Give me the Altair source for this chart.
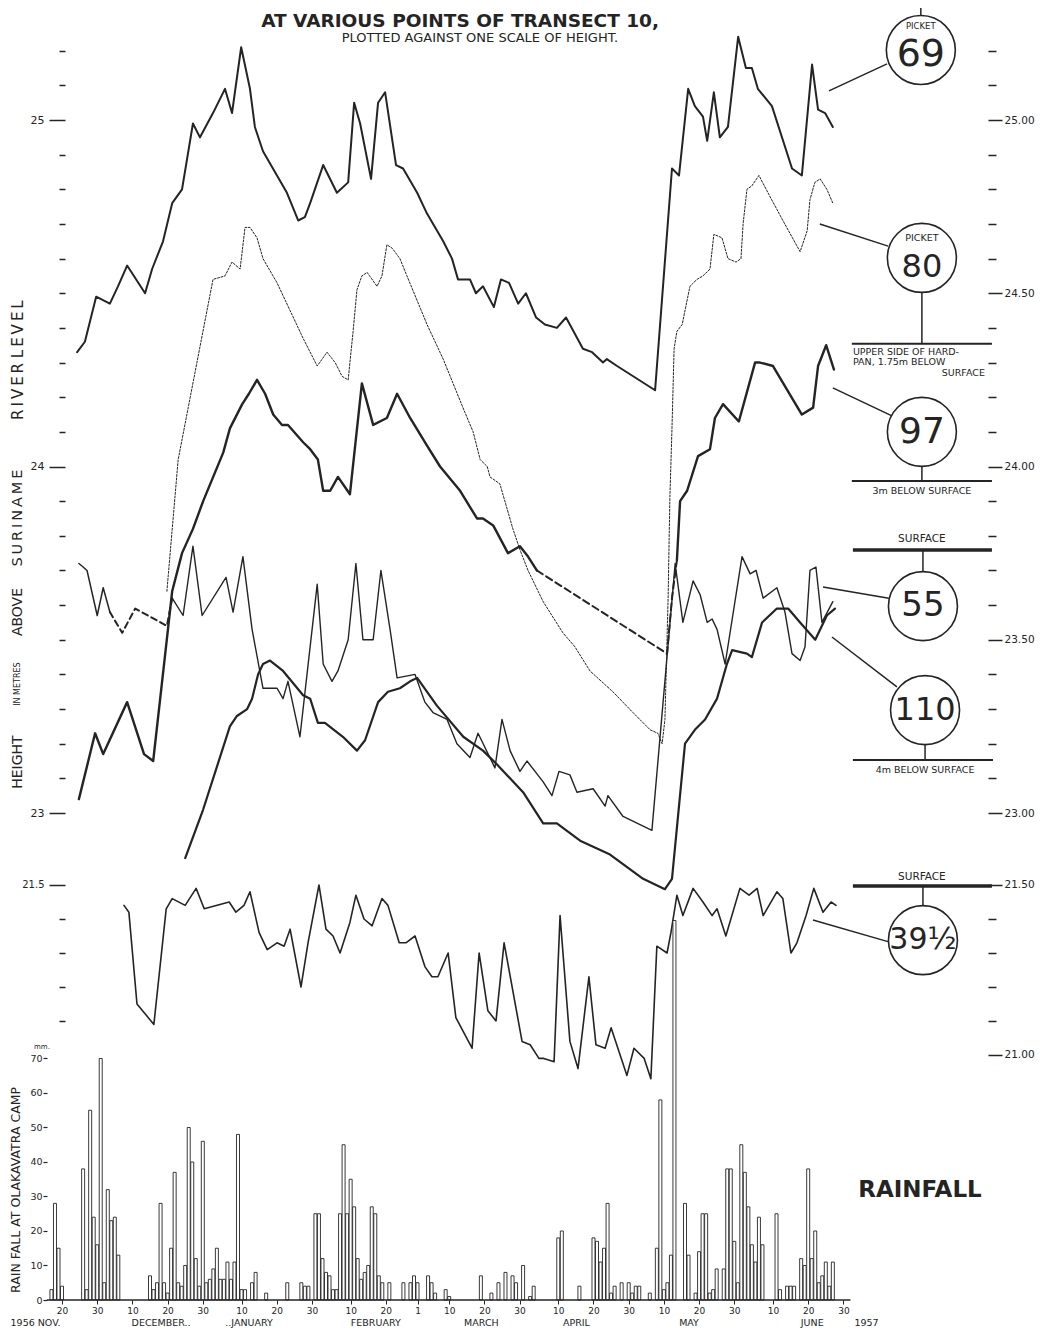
import altair as alt
import pandas as pd

INK = "#242424"
FONT = "DejaVu Sans"
BASE = pd.Timestamp("1956-11-01")   # day 0 = 1 Nov 1956

# ---------------- data (day = days after 1 Nov 1956, height in metres) ----------------
P69_DAY = [23.3,25.5,28.7,32.6,34.9,37.5,42.6,44.6,47.7,50.3,53.1,56.2,58.2,61.9,65.3,67.3,69.9,72.4,73.8,76.1,82.9,86.1,88.0,89.5,93.2,97.1,100.3,102.0,103.7,106.8,108.8,110.8,113.9,115.9,119.9,122.7,127.3,129.8,131.5,134.9,136.6,138.6,141.7,143.7,146.0,148.6,150.8,153.7,156.2,159.6,162.2,167.0,169.6,172.7,173.8,176.7,187.5,192.3,194.3,196.9,198.8,201.1,202.3,204.2,205.9,208.2,211.1,213.3,215.0,216.7,220.7,226.4,229.2,232.1,233.8,235.8,238.0]
P69_H = [24.33,24.36,24.49,24.47,24.52,24.58,24.50,24.57,24.65,24.76,24.80,24.99,24.95,25.02,25.09,25.02,25.21,25.09,24.98,24.91,24.79,24.71,24.72,24.76,24.87,24.79,24.82,25.05,24.99,24.83,25.05,25.08,24.87,24.86,24.79,24.73,24.65,24.60,24.54,24.54,24.50,24.52,24.46,24.54,24.53,24.47,24.50,24.43,24.41,24.40,24.43,24.34,24.33,24.30,24.31,24.29,24.22,24.86,24.84,25.09,25.04,25.01,24.94,25.08,24.95,24.98,25.24,25.15,25.15,25.09,25.04,24.86,24.84,25.16,25.03,25.02,24.98]

P80_DAY = [48.8,52.0,61.9,65.3,67.3,69.6,71.0,72.4,74.4,76.1,80.1,83.8,87.5,91.5,94.3,96.6,98.6,100.3,101.7,102.8,104.2,105.7,108.5,109.9,111.3,112.8,115.0,117.0,122.7,127.3,132.9,135.8,137.8,139.8,140.6,143.4,147.1,149.1,151.4,155.7,161.3,164.7,169.0,175.5,181.2,186.1,188.3,189.5,190.3,191.2,191.7,192.3,192.9,193.7,195.2,197.4,199.4,201.1,203.1,204.2,206.5,208.2,210.5,211.9,212.5,213.6,215.0,217.0,220.1,223.8,228.7,230.7,231.5,232.9,234.4,236.3,238.0]
P80_H = [23.64,24.02,24.54,24.55,24.59,24.57,24.69,24.69,24.66,24.60,24.53,24.45,24.37,24.29,24.33,24.30,24.26,24.25,24.39,24.51,24.55,24.56,24.52,24.55,24.64,24.63,24.60,24.55,24.41,24.31,24.17,24.10,24.02,24.00,23.97,23.95,23.82,23.76,23.70,23.61,23.52,23.48,23.41,23.35,23.29,23.24,23.23,23.20,23.27,23.62,23.91,24.11,24.34,24.39,24.41,24.52,24.54,24.55,24.57,24.67,24.66,24.60,24.59,24.60,24.70,24.80,24.81,24.84,24.78,24.71,24.62,24.68,24.77,24.82,24.83,24.80,24.76]

P97A_DAY = [23.8,28.4,30.7,37.5,42.3,44.9,49.1,50.3,53.1,56.2,59.1,64.8,66.7,70.2,72.1,74.4,76.7,79.0,81.5,83.2,87.5,89.5,91.7,93.2,95.2,97.4,100.8,104.2,107.4,111.3,114.2,117.9,122.7,126.4,132.1,136.9,138.6,141.5,145.7,149.1,151.4,153.9]
P97A_H = [23.04,23.23,23.17,23.32,23.17,23.15,23.53,23.64,23.75,23.82,23.90,24.04,24.11,24.18,24.21,24.25,24.21,24.15,24.12,24.12,24.07,24.05,24.02,23.93,23.93,23.97,23.92,24.24,24.12,24.14,24.21,24.14,24.06,24.00,23.93,23.85,23.85,23.83,23.75,23.77,23.74,23.70]
P97GAP_DAY = [153.9,190.9,192.3,193.7]
P97GAP_H = [23.70,23.46,23.62,23.73]
P97B_DAY = [193.7,194.6,196.6,199.7,203.1,204.5,206.8,211.3,215.9,217.3,221.0,229.2,232.4,233.8,236.1,238.3]
P97B_H = [23.73,23.90,23.93,24.03,24.05,24.14,24.18,24.13,24.30,24.30,24.29,24.15,24.17,24.29,24.35,24.28]

P55A_DAY = [23.8,25.0,26.1,29.0,30.7,32.6]
P55A_H = [23.72,23.71,23.70,23.57,23.65,23.58]
P55GAP_DAY = [32.6,36.1,39.8,48.8,50.3]
P55GAP_H = [23.58,23.52,23.59,23.54,23.62]
P55B_DAY = [50.3,53.4,56.2,58.8,65.6,67.6,70.4,73.0,76.1,80.1,81.8,83.2,86.6,91.5,93.2,95.7,97.4,100.3,102.5,104.5,107.4,109.6,112.2,114.2,119.3,122.1,124.4,128.4,131.2,134.9,137.2,142.0,144.0,146.3,149.1,151.1,155.7,158.2,160.2,163.3,165.3,169.9,173.3,174.1,178.4,186.6,193.2,195.4,198.3,200.3,202.3,203.7,205.1,207.4,212.2,214.5,216.2,218.2,222.1,224.4,226.4,228.7,230.1,231.5,233.2,234.9,238.0]
P55B_H = [23.62,23.57,23.77,23.57,23.68,23.58,23.74,23.53,23.36,23.36,23.33,23.38,23.22,23.66,23.43,23.38,23.41,23.50,23.72,23.50,23.50,23.70,23.53,23.39,23.40,23.32,23.29,23.27,23.20,23.16,23.23,23.13,23.27,23.18,23.12,23.15,23.09,23.05,23.12,23.11,23.06,23.07,23.02,23.05,22.99,22.95,23.72,23.55,23.67,23.63,23.55,23.56,23.53,23.43,23.74,23.69,23.70,23.62,23.65,23.58,23.46,23.44,23.48,23.70,23.71,23.55,23.61]

P110_DAY = [54.0,59.1,66.7,68.7,71.6,73.0,74.7,76.1,78.1,81.8,87.5,89.5,91.7,93.7,98.8,102.8,105.1,108.8,111.6,115.0,117.9,119.9,125.5,133.0,138.6,142.6,150.0,155.7,159.6,166.2,174.7,184.1,190.3,192.3,196.0,198.8,201.7,205.1,207.9,209.4,213.6,215.0,217.9,222.1,225.3,228.7,233.0,236.3,238.6]
P110_H = [22.87,23.01,23.25,23.28,23.30,23.33,23.40,23.43,23.44,23.41,23.34,23.33,23.26,23.26,23.22,23.18,23.21,23.32,23.35,23.36,23.38,23.39,23.31,23.22,23.18,23.14,23.06,22.97,22.97,22.92,22.88,22.81,22.78,22.81,23.20,23.24,23.27,23.33,23.43,23.47,23.46,23.45,23.55,23.59,23.59,23.55,23.50,23.57,23.59]

P39_DAY = [36.6,38.0,40.3,45.1,48.6,50.3,54.0,57.1,59.4,66.5,68.4,70.7,72.4,75.0,77.3,80.1,82.1,83.8,86.9,88.9,92.0,94.0,96.0,98.0,100.8,102.5,104.8,107.1,109.9,111.6,114.8,116.7,119.3,122.1,124.1,125.8,128.7,130.9,135.5,137.5,140.0,142.3,144.6,149.7,152.0,154.5,155.9,158.8,160.5,163.3,165.6,168.7,170.7,173.3,175.0,179.5,181.5,184.4,186.3,188.0,190.9,192.0,193.7,195.4,198.3,201.1,203.7,205.1,207.6,211.6,214.2,216.5,218.2,222.1,223.8,226.1,227.8,230.4,232.6,235.2,237.5,238.9]
P39_H = [21.44,21.42,21.15,21.09,21.43,21.46,21.44,21.49,21.43,21.45,21.42,21.44,21.48,21.36,21.31,21.33,21.32,21.37,21.20,21.33,21.50,21.37,21.35,21.30,21.39,21.47,21.40,21.38,21.46,21.44,21.33,21.33,21.35,21.26,21.23,21.23,21.30,21.11,21.02,21.30,21.13,21.10,21.33,21.04,21.03,20.99,20.99,20.98,21.41,21.04,20.96,21.23,21.03,21.02,21.08,20.94,21.02,20.99,20.93,21.32,21.30,21.36,21.47,21.41,21.49,21.45,21.41,21.43,21.35,21.49,21.47,21.49,21.41,21.48,21.46,21.30,21.33,21.41,21.49,21.42,21.45,21.44]

RAIN_DAY = [16,17,18,19,25,26,27,28,29,30,31,32,33,34,35,
            44,45,46,47,48,49,50,51,52,53,54,55,56,57,58,59,60,61,62,63,64,65,66,67,68,69,70,71,73,74,77,
            83,87,88,89,91,92,93,94,95,96,97,98,99,100,101,102,103,104,105,106,107,108,109,110,
            112,116,118,119,120,123,124,125,128,129,138,141,143,145,147,148,150,152,153,160,161,166,
            170,171,172,173,174,175,176,178,180,181,182,183,186,188,189,190,191,192,193,196,197,199,200,201,202,203,204,205,
            207,208,209,210,211,212,213,214,215,216,217,218,222,223,225,226,227,229,230,231,232,233,234,235,236,237,238]
RAIN_MM = [3,28,15,4,38,3,55,24,16,70,5,32,23,24,13,
           7,3,5,28,5,2,15,37,5,4,10,50,40,12,4,46,5,6,9,15,6,6,11,6,11,48,3,3,5,8,2,
           5,5,4,4,25,25,12,8,7,3,3,25,45,25,35,27,12,6,8,10,27,25,7,5,
           5,5,5,7,5,7,5,2,3,1,7,2,5,8,7,5,10,1,4,18,20,4,
           18,17,11,15,28,2,4,5,5,2,4,4,2,15,58,3,5,13,110,28,13,2,14,25,25,2,3,9,
           9,38,38,17,5,45,37,27,16,11,24,16,25,3,4,4,4,12,10,38,12,20,5,7,11,4,11]
RAIN_BASELINE_DAY = [14.7, 243.0]

# tick values / labels
MAIN_TICKS = [round(23.0 + 0.1 * i, 1) for i in range(24)]
S39_LEFT_TICKS = [21.1, 21.2, 21.3, 21.4, 21.5]
S39_RIGHT_TICKS = [21.0, 21.1, 21.2, 21.3, 21.4, 21.5]
RAIN_TICKS = [0, 10, 20, 30, 40, 50, 60, 70]
DAY_TICKS = [(1956,11,20),(1956,11,30),(1956,12,10),(1956,12,20),(1956,12,30),(1957,1,10),(1957,1,20),(1957,1,30),
             (1957,2,10),(1957,2,20),(1957,3,1),(1957,3,10),(1957,3,20),(1957,3,30),(1957,4,10),(1957,4,20),
             (1957,4,30),(1957,5,10),(1957,5,20),(1957,5,30),(1957,6,10),(1957,6,20),(1957,6,30)]
MONTH_TICKS = [(1956,11,12,8),(1956,12,18,0),(1957,1,12,0),(1957,2,17,0),(1957,3,19,0),(1957,4,15,0),
               (1957,5,17,0),(1957,6,21,0),(1957,7,6,10)]
MONTH_NAMES = "['..JANUARY','FEBRUARY','MARCH','APRIL','MAY','JUNE','1957','','','','1956   NOV.','DECEMBER..']"

# annotation geometry (in chart data units: day, metres on the main height scale)
RULE_D1 = [263.0,236.9,234.3,263.3,243.4,238.0,263.3,243.4,243.7,263.6,235.2,237.75,264.2,243.7,243.7,263.6,232.35]
RULE_D2 = [263.0,253.4,253.7,263.3,283.2,254.8,263.3,283.2,283.2,263.6,253.9,256.2,264.2,283.5,283.2,263.6,253.9]
RULE_H1 = [25.323,25.084,24.700,24.501,24.354,24.227,24.001,23.958,23.759,23.759,23.652,23.508,23.196,23.153,22.789,22.789,22.691]
RULE_H2 = [25.303,25.162,24.636,24.354,24.354,24.146,23.958,23.958,23.759,23.696,23.620,23.364,23.153,23.153,22.789,22.732,22.628]
RULE_W = [1.5,1.5,1.5,1.5,2.0,1.5,1.5,2.0,3.5,1.5,1.5,1.5,1.5,2.0,3.5,1.5,1.5]

CIRC_D = [263.0, 263.3, 263.3, 263.6, 264.2, 263.6]
CIRC_H = [25.202, 24.602, 24.100, 23.597, 23.297, 22.633]

TXT_C = ["PICKET", "69", "PICKET", "80", "97", "55", "110", "39½", "3m  BELOW SURFACE", "SURFACE",
         "4m  BELOW SURFACE", "SURFACE", "PLOTTED  AGAINST  ONE  SCALE  OF  HEIGHT.", "mm."]
TXT_C_D = [263.0, 263.0, 263.3, 263.3, 263.3, 263.6, 264.2, 263.6, 263.3, 263.3, 264.2, 263.3, 137.75, 13.3]
TXT_C_H = [25.271, 25.188, 24.659, 24.576, 24.100, 23.597, 23.297, 22.633, 23.929, 23.791, 23.124, 22.815, 25.237, 22.325]
TXT_C_FS = [8.5, 38, 9.5, 32, 36, 34, 32, 30, 9.5, 10.5, 9.5, 10.5, 13, 7]

TXT_L = ["UPPER SIDE OF HARD-", "PAN, 1.75m BELOW"]
TXT_L_D = [243.7, 243.7]
TXT_L_H = [24.330, 24.302]
TXT_R = ["SURFACE"]
TXT_R_D = [281.2]
TXT_R_H = [24.270]
TXT_B = ["AT VARIOUS POINTS  OF TRANSECT 10,", "RAINFALL"]
TXT_B_D = [132.1, 262.75]
TXT_B_H = [25.285, 21.912]
TXT_B_FS = [18.5, 23]
THIN = "\u2009"
TXT_V = ["HEIGHT", "IN METRES", "ABOVE", THIN.join("SURINAME"), THIN.join("RIVER") + "  " + THIN.join("LEVEL"),
         "RAIN FALL  AT  OLAKAVATRA  CAMP"]
TXT_V_D = [6.5, 6.5, 6.5, 6.5, 6.5, 5.9]
TXT_V_H = [23.147, 23.372, 23.580, 23.851, 24.307, 21.912]
TXT_V_FS = [14, 8, 14, 14.5, 15, 12.5]


def dates(days):
    return [BASE + pd.Timedelta(days=float(d)) for d in days]


def dt(t):
    if len(t) == 3:
        return alt.DateTime(year=t[0], month=t[1], date=t[2])
    return alt.DateTime(year=t[0], month=t[1], date=t[2], hours=t[3])


# ---------------- scales (plot area: 976 x 1283 px) ----------------
XSC = alt.Scale(domain=[alt.DateTime(year=1956, month=11, date=5, hours=19),
                        alt.DateTime(year=1957, month=8, date=10, hours=2)], nice=False, padding=0)
MAIN_SC = alt.Scale(domain=[21.5945, 25.2973], nice=False, zero=False)
S39_SC = alt.Scale(domain=[20.2794, 24.0529], nice=False, zero=False)
RAIN_SC = alt.Scale(domain=[0, 371.88], nice=False, zero=False)

INT_TEST = "abs(datum.value - round(datum.value)) < 0.001"
HALF_TEST = "abs(datum.value * 2 - round(datum.value * 2)) < 0.001"

axis_common = dict(domain=False, grid=False, tickColor=INK, labelColor=INK, labelFont=FONT,
                   labelOverlap=False)

main_left_axis = alt.Axis(orient="left", offset=-53, values=MAIN_TICKS,
                          tickSize={"condition": {"test": INT_TEST, "value": 16}, "value": 6},
                          tickWidth=1.5, labelExpr=f"{INT_TEST} ? format(datum.value, 'd') : ''",
                          labelFontSize=11, labelPadding=5, title=None, **axis_common)
main_right_axis = alt.Axis(orient="right", offset=0, values=MAIN_TICKS,
                           tickSize={"condition": {"test": HALF_TEST, "value": 14}, "value": 8},
                           tickWidth=1.5, labelExpr=f"{HALF_TEST} ? format(datum.value, '.2f') : ''",
                           labelFontSize=10.5, labelPadding=2, title=None, **axis_common)
s39_left_axis = alt.Axis(orient="left", offset=-53, values=S39_LEFT_TICKS,
                         tickSize={"condition": {"test": "abs(datum.value - 21.5) < 0.001", "value": 16}, "value": 6},
                         tickWidth=1.5, labelExpr="abs(datum.value - 21.5) < 0.001 ? '21.5' : ''",
                         labelFontSize=10, labelPadding=5, title=None, **axis_common)
s39_right_axis = alt.Axis(orient="right", offset=0, values=S39_RIGHT_TICKS,
                          tickSize={"condition": {"test": HALF_TEST, "value": 14}, "value": 8},
                          tickWidth=1.5, labelExpr=f"{HALF_TEST} ? format(datum.value, '.2f') : ''",
                          labelFontSize=10.5, labelPadding=2, title=None, **axis_common)
rain_axis = alt.Axis(orient="left", offset=-35, values=RAIN_TICKS, tickSize=4, tickWidth=1.2,
                     labelFontSize=9.5, labelPadding=1, title=None, **axis_common)
day_axis = alt.Axis(orient="bottom", values=[dt(t) for t in DAY_TICKS], tickSize=4, tickWidth=1,
                    labelExpr="'' + date(datum.value)", labelFontSize=9, labelPadding=2,
                    labelFlush=False, title=None, **axis_common)
month_axis = alt.Axis(orient="bottom", offset=17, values=[dt(t) for t in MONTH_TICKS], ticks=False,
                      labelExpr=MONTH_NAMES + "[month(datum.value)]", labelFontSize=9.5, labelPadding=0,
                      labelFlush=False, title=None, **axis_common)


def xenc(field="date", axis=None):
    return alt.X(f"{field}:T", scale=XSC, axis=axis, title=None)


def line(days, vals, width, dash=None, sc=MAIN_SC, yaxis=None, opacity=1.0):
    df = pd.DataFrame({"date": dates(days), "v": vals})
    kw = dict(strokeWidth=width, color=INK, strokeJoin="round", strokeCap="round", opacity=opacity)
    if dash:
        kw["strokeDash"] = dash
    return alt.Chart(df).mark_line(**kw).encode(
        x=xenc(), y=alt.Y("v:Q", scale=sc, axis=yaxis, title=None))


layers = [
    line(P69_DAY, P69_H, 2.0, yaxis=main_left_axis),
    line(P80_DAY, P80_H, 1.0, dash=[2, 1.6], yaxis=main_right_axis),
    line(P97A_DAY, P97A_H, 2.4),
    line(P97GAP_DAY, P97GAP_H, 2.0, dash=[7, 4]),
    line(P97B_DAY, P97B_H, 2.4),
    line(P55A_DAY, P55A_H, 1.5),
    line(P55GAP_DAY, P55GAP_H, 2.0, dash=[6, 4]),
    line(P55B_DAY, P55B_H, 1.4),
    line(P110_DAY, P110_H, 2.2),
    line(P39_DAY, P39_H, 1.6, sc=S39_SC, yaxis=s39_left_axis),
    alt.Chart(pd.DataFrame({"date": dates(P39_DAY), "v": P39_H})).mark_point(opacity=0).encode(
        x=xenc(), y=alt.Y("v:Q", scale=S39_SC, axis=s39_right_axis, title=None)),
]

rain_df = pd.DataFrame({"date": dates(RAIN_DAY), "mm": RAIN_MM})
layers.append(alt.Chart(rain_df).mark_bar(size=3, fill="white", stroke=INK, strokeWidth=0.9).encode(
    x=xenc(axis=day_axis), y=alt.Y("mm:Q", scale=RAIN_SC, axis=rain_axis, title=None)))

base_df = pd.DataFrame({"d1": dates(RAIN_BASELINE_DAY[:1]), "d2": dates(RAIN_BASELINE_DAY[1:]), "mm": [0]})
layers.append(alt.Chart(base_df).mark_rule(color=INK, strokeWidth=1.6).encode(
    x=xenc("d1", axis=month_axis), x2="d2:T", y=alt.Y("mm:Q", scale=RAIN_SC, axis=None)))

rule_df = pd.DataFrame({"d1": dates(RULE_D1), "d2": dates(RULE_D2), "h1": RULE_H1, "h2": RULE_H2, "w": RULE_W})
layers.append(alt.Chart(rule_df).mark_rule(color=INK).encode(
    x=xenc("d1"), x2="d2:T", y=alt.Y("h1:Q", scale=MAIN_SC, axis=None), y2="h2:Q",
    strokeWidth=alt.StrokeWidth("w:Q", scale=None)))

circ_df = pd.DataFrame({"date": dates(CIRC_D), "h": CIRC_H})
layers.append(alt.Chart(circ_df).mark_point(shape="circle", size=4761, filled=False, color=INK,
                                            strokeWidth=1.6, opacity=1).encode(
    x=xenc(), y=alt.Y("h:Q", scale=MAIN_SC, axis=None)))


def texts(txt, d, h, fs, **mk):
    df = pd.DataFrame({"date": dates(d), "h": h, "t": txt, "fs": fs})
    return alt.Chart(df).mark_text(font=FONT, color=INK, **mk).encode(
        x=xenc(), y=alt.Y("h:Q", scale=MAIN_SC, axis=None), text="t:N",
        size=alt.Size("fs:Q", scale=None))


layers += [
    texts(TXT_C, TXT_C_D, TXT_C_H, TXT_C_FS, align="center", baseline="middle"),
    texts(TXT_L, TXT_L_D, TXT_L_H, [9.5, 9.5], align="left", baseline="middle"),
    texts(TXT_R, TXT_R_D, TXT_R_H, [9.5], align="right", baseline="middle"),
    texts(TXT_B, TXT_B_D, TXT_B_H, TXT_B_FS, align="center", baseline="middle", fontWeight="bold"),
    texts(TXT_V, TXT_V_D, TXT_V_H, TXT_V_FS, align="center", baseline="middle", angle=270),
]

chart = alt.layer(*layers).resolve_scale(x="independent", y="independent").properties(
    width=976, height=1283,
    padding={"left": 4, "top": 9, "right": 56, "bottom": 33},
    autosize=alt.AutoSizeParams(type="none"),
).configure(font=FONT, background="white", view=alt.ViewConfig(stroke=None))

chart.save("out.html", embed_options={"renderer": "svg", "actions": False})
